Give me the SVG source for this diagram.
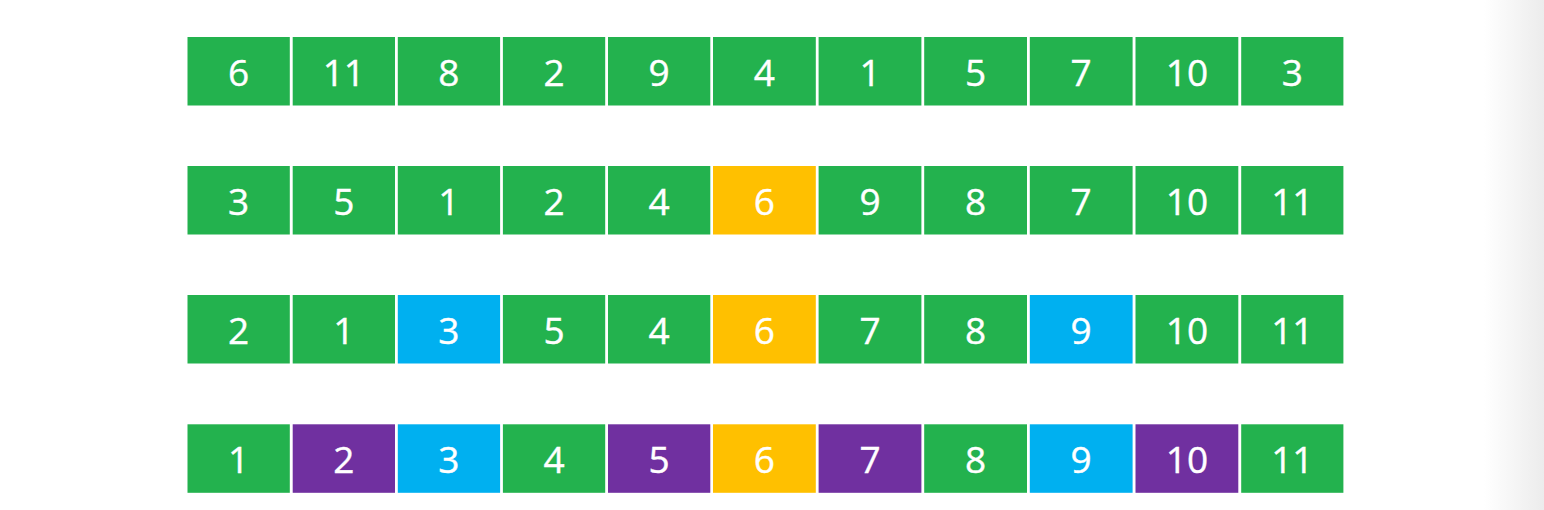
<svg xmlns="http://www.w3.org/2000/svg" width="1544" height="510" viewBox="0 0 1544 510">
<defs>
<linearGradient id="sh" x1="0" y1="0" x2="1" y2="0">
<stop offset="0" stop-color="#ffffff"/>
<stop offset="1" stop-color="#ececec"/>
</linearGradient>
<style>
.g{fill:#23b24e}.y{fill:#ffc000}.b{fill:#00b0f0}.p{fill:#7030a0}
text{font-family:"Open Sans","Liberation Sans",sans-serif;font-size:37px;fill:#ffffff;text-anchor:middle;stroke:#ffffff;stroke-width:0.4}
</style>
</defs>
<rect width="1544" height="510" fill="#ffffff"/>
<rect x="1484" y="0" width="60" height="510" fill="url(#sh)"/>
<g id="row1">
<g id="r1c1"><rect class="g" x="187.5" y="37" width="102.3" height="68.5"/><text x="238.6" y="86">6</text></g>
<g id="r1c2"><rect class="g" x="292.7" y="37" width="102.3" height="68.5"/><text x="343.8" y="86">11</text></g>
<g id="r1c3"><rect class="g" x="397.8" y="37" width="102.3" height="68.5"/><text x="448.9" y="86">8</text></g>
<g id="r1c4"><rect class="g" x="502.9" y="37" width="102.3" height="68.5"/><text x="554" y="86">2</text></g>
<g id="r1c5"><rect class="g" x="608" y="37" width="102.3" height="68.5"/><text x="659.1" y="86">9</text></g>
<g id="r1c6"><rect class="g" x="713" y="37" width="102.8" height="68.5"/><text x="764.4" y="86">4</text></g>
<g id="r1c7"><rect class="g" x="818.6" y="37" width="102.8" height="68.5"/><text x="870" y="86">1</text></g>
<g id="r1c8"><rect class="g" x="924.2" y="37" width="102.8" height="68.5"/><text x="975.6" y="86">5</text></g>
<g id="r1c9"><rect class="g" x="1029.8" y="37" width="102.8" height="68.5"/><text x="1081.2" y="86">7</text></g>
<g id="r1c10"><rect class="g" x="1135.5" y="37" width="102.8" height="68.5"/><text x="1186.9" y="86">10</text></g>
<g id="r1c11"><rect class="g" x="1241.2" y="37" width="102.2" height="68.5"/><text x="1292.3" y="86">3</text></g>
</g>
<g id="row2">
<g id="r2c1"><rect class="g" x="187.5" y="166" width="102.3" height="68.5"/><text x="238.6" y="215">3</text></g>
<g id="r2c2"><rect class="g" x="292.7" y="166" width="102.3" height="68.5"/><text x="343.8" y="215">5</text></g>
<g id="r2c3"><rect class="g" x="397.8" y="166" width="102.3" height="68.5"/><text x="448.9" y="215">1</text></g>
<g id="r2c4"><rect class="g" x="502.9" y="166" width="102.3" height="68.5"/><text x="554" y="215">2</text></g>
<g id="r2c5"><rect class="g" x="608" y="166" width="102.3" height="68.5"/><text x="659.1" y="215">4</text></g>
<g id="r2c6"><rect class="y" x="713" y="166" width="102.8" height="68.5"/><text x="764.4" y="215">6</text></g>
<g id="r2c7"><rect class="g" x="818.6" y="166" width="102.8" height="68.5"/><text x="870" y="215">9</text></g>
<g id="r2c8"><rect class="g" x="924.2" y="166" width="102.8" height="68.5"/><text x="975.6" y="215">8</text></g>
<g id="r2c9"><rect class="g" x="1029.8" y="166" width="102.8" height="68.5"/><text x="1081.2" y="215">7</text></g>
<g id="r2c10"><rect class="g" x="1135.5" y="166" width="102.8" height="68.5"/><text x="1186.9" y="215">10</text></g>
<g id="r2c11"><rect class="g" x="1241.2" y="166" width="102.2" height="68.5"/><text x="1292.3" y="215">11</text></g>
</g>
<g id="row3">
<g id="r3c1"><rect class="g" x="187.5" y="295" width="102.3" height="68.5"/><text x="238.6" y="344">2</text></g>
<g id="r3c2"><rect class="g" x="292.7" y="295" width="102.3" height="68.5"/><text x="343.8" y="344">1</text></g>
<g id="r3c3"><rect class="b" x="397.8" y="295" width="102.3" height="68.5"/><text x="448.9" y="344">3</text></g>
<g id="r3c4"><rect class="g" x="502.9" y="295" width="102.3" height="68.5"/><text x="554" y="344">5</text></g>
<g id="r3c5"><rect class="g" x="608" y="295" width="102.3" height="68.5"/><text x="659.1" y="344">4</text></g>
<g id="r3c6"><rect class="y" x="713" y="295" width="102.8" height="68.5"/><text x="764.4" y="344">6</text></g>
<g id="r3c7"><rect class="g" x="818.6" y="295" width="102.8" height="68.5"/><text x="870" y="344">7</text></g>
<g id="r3c8"><rect class="g" x="924.2" y="295" width="102.8" height="68.5"/><text x="975.6" y="344">8</text></g>
<g id="r3c9"><rect class="b" x="1029.8" y="295" width="102.8" height="68.5"/><text x="1081.2" y="344">9</text></g>
<g id="r3c10"><rect class="g" x="1135.5" y="295" width="102.8" height="68.5"/><text x="1186.9" y="344">10</text></g>
<g id="r3c11"><rect class="g" x="1241.2" y="295" width="102.2" height="68.5"/><text x="1292.3" y="344">11</text></g>
</g>
<g id="row4">
<g id="r4c1"><rect class="g" x="187.5" y="424.3" width="102.3" height="68.5"/><text x="238.6" y="473.3">1</text></g>
<g id="r4c2"><rect class="p" x="292.7" y="424.3" width="102.3" height="68.5"/><text x="343.8" y="473.3">2</text></g>
<g id="r4c3"><rect class="b" x="397.8" y="424.3" width="102.3" height="68.5"/><text x="448.9" y="473.3">3</text></g>
<g id="r4c4"><rect class="g" x="502.9" y="424.3" width="102.3" height="68.5"/><text x="554" y="473.3">4</text></g>
<g id="r4c5"><rect class="p" x="608" y="424.3" width="102.3" height="68.5"/><text x="659.1" y="473.3">5</text></g>
<g id="r4c6"><rect class="y" x="713" y="424.3" width="102.8" height="68.5"/><text x="764.4" y="473.3">6</text></g>
<g id="r4c7"><rect class="p" x="818.6" y="424.3" width="102.8" height="68.5"/><text x="870" y="473.3">7</text></g>
<g id="r4c8"><rect class="g" x="924.2" y="424.3" width="102.8" height="68.5"/><text x="975.6" y="473.3">8</text></g>
<g id="r4c9"><rect class="b" x="1029.8" y="424.3" width="102.8" height="68.5"/><text x="1081.2" y="473.3">9</text></g>
<g id="r4c10"><rect class="p" x="1135.5" y="424.3" width="102.8" height="68.5"/><text x="1186.9" y="473.3">10</text></g>
<g id="r4c11"><rect class="g" x="1241.2" y="424.3" width="102.2" height="68.5"/><text x="1292.3" y="473.3">11</text></g>
</g>
<g id="connectors"/>
</svg>
